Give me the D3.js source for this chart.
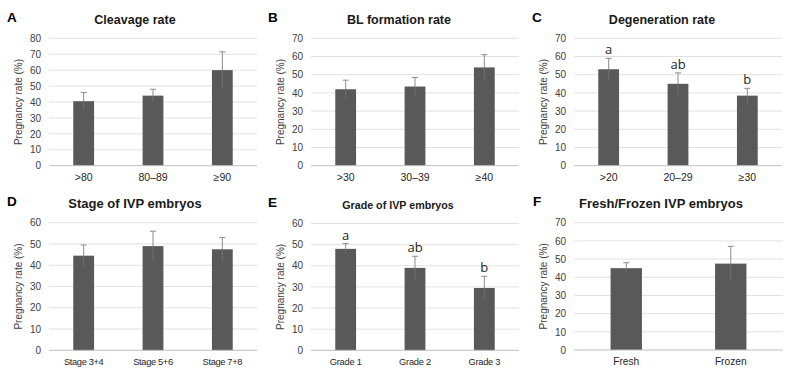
<!DOCTYPE html>
<html>
<head>
<meta charset="utf-8">
<script src="https://cdn.jsdelivr.net/npm/d3@7"></script>
<style>
  html, body { margin: 0; padding: 0; background: #fff; }
  svg { display: block; font-family: "Liberation Sans", Arial, sans-serif; }
</style>
</head>
<body>
<svg id="chart" width="790" height="372"></svg>
<script>
// data
const catsA = [">80", "80–89", "≥90"];
const valsA = [40.5, 44, 60];
const errA = [5.5, 4, 11.5];

const catsB = [">30", "30–39", "≥40"];
const valsB = [42, 43.5, 54];
const errB = [5, 5, 7];

const catsC = [">20", "20–29", "≥30"];
const valsC = [53, 45, 38.5];
const errC = [6, 6, 4];
const sigC = ["a", "ab", "b"];

const catsD = ["Stage 3+4", "Stage 5+6", "Stage 7+8"];
const valsD = [44.5, 49, 47.5];
const errD = [5, 7, 5.5];

const catsE = ["Grade 1", "Grade 2", "Grade 3"];
const valsE = [48, 39, 29.5];
const errE = [2.5, 5.5, 5.5];
const sigE = ["a", "ab", "b"];

const catsF = ["Fresh", "Frozen"];
const valsF = [45, 47.5];
const errF = [3, 9.5];

const yMaxes = [80, 70, 70, 60, 60, 70];

const panels = [
  { letter: "A", title: "Cleavage rate", cats: catsA, vals: valsA, err: errA, sig: null, ymax: yMaxes[0],
    x0: 49, x1: 257, top: 38.3, bottom: 165.7, lx: 7, tx: 135, tsize: 12.5, xsize: 10.5, xls: 0 },
  { letter: "B", title: "BL formation rate", cats: catsB, vals: valsB, err: errB, sig: null, ymax: yMaxes[1],
    x0: 311, x1: 519, top: 38.3, bottom: 165.7, lx: 268, tx: 399, tsize: 12.5, xsize: 10.5, xls: 0 },
  { letter: "C", title: "Degeneration rate", cats: catsC, vals: valsC, err: errC, sig: sigC, ymax: yMaxes[2],
    x0: 574, x1: 782, top: 38.3, bottom: 165.7, lx: 532, tx: 662, tsize: 12.5, xsize: 10.5, xls: 0 },
  { letter: "D", title: "Stage of IVP embryos", cats: catsD, vals: valsD, err: errD, sig: null, ymax: yMaxes[3],
    x0: 49, x1: 257, top: 222.7, bottom: 350.3, lx: 7, tx: 135, tsize: 13, xsize: 9.3, xls: -0.35 },
  { letter: "E", title: "Grade of IVP embryos", cats: catsE, vals: valsE, err: errE, sig: sigE, ymax: yMaxes[4],
    x0: 311, x1: 519, top: 223.5, bottom: 350.3, lx: 268, tx: 398, tsize: 10.7, xsize: 9.3, xls: -0.25 },
  { letter: "F", title: "Fresh/Frozen IVP embryos", cats: catsF, vals: valsF, err: errF, sig: null, ymax: yMaxes[5],
    x0: 574, x1: 783, top: 222.7, bottom: 350, lx: 533, tx: 661, tsize: 13, xsize: 10.2, xls: 0 },
];

const svg = d3.select("#chart");

panels.forEach(p => {
  const g = svg.append("g");
  const x = d3.scaleBand().domain(p.cats).range([p.x0, p.x1]).paddingInner(0.7).paddingOuter(0.35);
  const y = d3.scaleLinear().domain([0, p.ymax]).range([p.bottom, p.top]);
  const cx = i => x(p.cats[i]) + x.bandwidth() / 2;

  // gridlines
  const ticks = d3.range(10, p.ymax + 1, 10);
  g.selectAll(".grid").data(ticks).join("line")
    .attr("x1", p.x0).attr("x2", p.x1)
    .attr("y1", d => y(d)).attr("y2", d => y(d))
    .attr("stroke", "#d9d9d9").attr("stroke-width", 0.8);

  // y axis labels
  const yAxis = g.append("g")
    .attr("transform", `translate(${p.x0},0)`)
    .call(d3.axisLeft(y).tickValues(d3.range(0, p.ymax + 1, 10)).tickSize(0).tickPadding(8));
  yAxis.select(".domain").remove();
  yAxis.selectAll(".tick text")
    .attr("fill", "#404040").attr("font-size", 10)
    .attr("font-family", "Liberation Sans, Arial, sans-serif");

  // bars
  g.selectAll(".bar").data(p.vals).join("rect")
    .attr("x", (d, i) => x(p.cats[i])).attr("width", x.bandwidth())
    .attr("y", d => y(d)).attr("height", d => p.bottom - y(d))
    .attr("fill", "#595959");

  // error bars: lower half sits on the bar, so it is faint
  g.selectAll(".errlo").data(p.vals).join("line")
    .attr("x1", (d, i) => cx(i)).attr("x2", (d, i) => cx(i))
    .attr("y1", (d, i) => y(d - p.err[i])).attr("y2", d => y(d))
    .attr("stroke", "#707070").attr("stroke-width", 1);
  g.selectAll(".errhi").data(p.vals).join("line")
    .attr("x1", (d, i) => cx(i)).attr("x2", (d, i) => cx(i))
    .attr("y1", d => y(d)).attr("y2", (d, i) => y(d + p.err[i]))
    .attr("stroke", "#8c8c8c").attr("stroke-width", 1);
  g.selectAll(".cap").data(p.vals).join("line")
    .attr("x1", (d, i) => cx(i) - 3).attr("x2", (d, i) => cx(i) + 3)
    .attr("y1", (d, i) => y(d + p.err[i])).attr("y2", (d, i) => y(d + p.err[i]))
    .attr("stroke", "#8c8c8c").attr("stroke-width", 1);

  // bottom axis
  const xAxis = g.append("g")
    .attr("transform", `translate(0,${p.bottom})`)
    .call(d3.axisBottom(x).tickSize(0).tickPadding(8));
  xAxis.select(".domain").attr("stroke", "#bfbfbf").attr("d", `M${p.x0},0H${p.x1}`);
  xAxis.selectAll(".tick text")
    .attr("fill", "#262626").attr("font-size", p.xsize)
    .attr("letter-spacing", p.xls)
    .attr("font-family", "Liberation Sans, Arial, sans-serif");

  // significance letters
  if (p.sig) {
    g.selectAll(".sig").data(p.vals).join("text")
      .attr("x", (d, i) => cx(i))
      .attr("y", (d, i) => y(d + p.err[i]) - 4)
      .attr("text-anchor", "middle")
      .attr("font-family", "Open Sans, sans-serif").attr("font-size", 13)
      .attr("fill", "#262626")
      .text((d, i) => p.sig[i]);
  }

  // y axis title
  const ymid = (p.top + p.bottom) / 2;
  g.append("text")
    .attr("transform", `translate(${p.x0 - 27},${ymid}) rotate(-90)`)
    .attr("text-anchor", "middle")
    .attr("font-size", 10).attr("fill", "#404040")
    .text("Pregnancy rate (%)");

  // title and panel letter
  g.append("text")
    .attr("x", p.tx).attr("y", p.top - 14.5)
    .attr("text-anchor", "middle")
    .attr("font-size", p.tsize).attr("font-weight", "bold").attr("fill", "#1a1a1a")
    .text(p.title);
  g.append("text")
    .attr("x", p.lx).attr("y", p.top - 16.5)
    .attr("font-size", 13.5).attr("font-weight", "bold").attr("fill", "#000")
    .text(p.letter);
});
</script>
</body>
</html>
